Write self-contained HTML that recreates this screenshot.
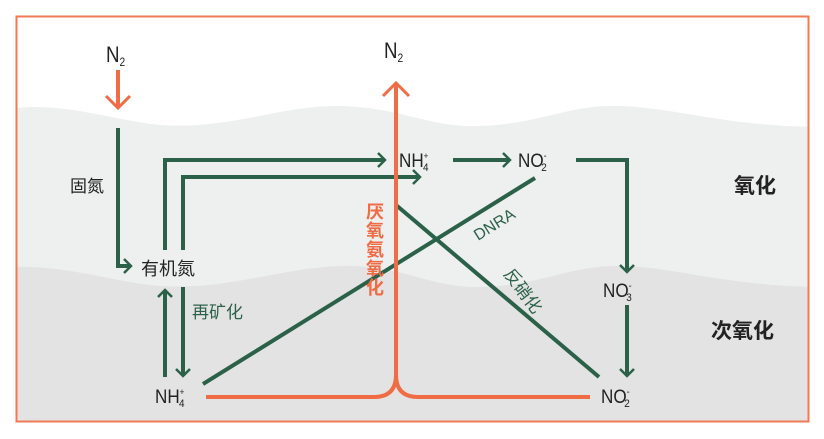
<!DOCTYPE html>
<html><head><meta charset="utf-8"><style>
body{margin:0;background:#fff}
svg{display:block}
text{font-family:"Liberation Sans","Noto Sans CJK SC",sans-serif}
</style></head><body>
<svg width="824" height="439" viewBox="0 0 824 439" xmlns="http://www.w3.org/2000/svg">
<defs><clipPath id="c"><rect x="17" y="17" width="791" height="404"/></clipPath></defs>
<g clip-path="url(#c)">
<rect x="0" y="0" width="824" height="439" fill="#ffffff"/>
<path d="M0,110 C60,100 100,118 160,125 C230,130 280,105 340,106 C400,107 430,128 480,126 C540,124 570,104 620,106 C680,108 720,126 824,127 L824,439 L0,439Z" fill="#eeefef"/>
<path d="M0,268 C60,262 110,282 160,286 C230,290 280,268 340,266 C400,264 430,288 480,287 C540,286 570,265 620,266 C680,267 720,286 824,287 L824,439 L0,439Z" fill="#e3e3e3"/>
</g>
<rect x="16.5" y="16.5" width="792" height="405" fill="none" stroke="#f07a55" stroke-width="2"/>
<g fill="none" stroke="#2b6149" stroke-width="4" stroke-linejoin="miter">
<path d="M118,128 V266 H130"/><path d="M124,259 L131,266 L124,273" stroke-width="2.5"/>
<path d="M165,250 V160 H385"/><path d="M378,153 L385,160 L378,167" stroke-width="2.5"/>
<path d="M183,250 V177 H420"/><path d="M413,170 L420,177 L413,184" stroke-width="2.5"/>
<path d="M453,160 H510"/><path d="M503,153 L510,160 L503,167" stroke-width="2.5"/>
<path d="M576,160 H627 V272"/><path d="M620,265 L627,272 L634,265" stroke-width="2.5"/>
<path d="M627,305 V376"/><path d="M620,369 L627,376 L634,369" stroke-width="2.5"/>
<path d="M165,377 V290"/><path d="M158,297 L165,290 L172,297" stroke-width="2.5"/>
<path d="M183,287 V376"/><path d="M176,369 L183,376 L190,369" stroke-width="2.5"/>
<path d="M203,384 L535,178"/>
<path d="M396,205 L599,377"/>
</g>
<g fill="none" stroke="#f06c45" stroke-width="4">
<path d="M118,70 V108"/><path d="M106,96 L118,108 L130,96" stroke-width="3"/>
<path d="M396,84 V375 Q396,397 418,397 H590"/>
<path d="M396,375 Q396,397 374,397 H206"/>
<path d="M383,96 L396,83 L409,96" stroke-width="3"/>
</g>
<g fill="#222" font-size="22">
<text x="106" y="62" transform="translate(106,0) scale(0.85,1) translate(-106,0)">N<tspan font-size="12" dy="4">2</tspan></text>
<text x="384" y="58" transform="translate(384,0) scale(0.85,1) translate(-384,0)">N<tspan font-size="12" dy="4">2</tspan></text>
<text x="399" y="167" font-size="19" transform="translate(399,0) scale(0.9,1) translate(-399,0)">NH<tspan font-size="9" dy="-8">+</tspan><tspan font-size="11" dx="-6" dy="12">4</tspan></text>
<text x="518" y="167" font-size="19" transform="translate(518,0) scale(0.9,1) translate(-518,0)">NO<tspan font-size="10" dy="-8">-</tspan><tspan font-size="11" dx="-6" dy="12">2</tspan></text>
<text x="603" y="297" font-size="19" transform="translate(603,0) scale(0.9,1) translate(-603,0)">NO<tspan font-size="10" dy="-8">-</tspan><tspan font-size="11" dx="-6" dy="12">3</tspan></text>
<text x="601" y="403" font-size="19" transform="translate(601,0) scale(0.9,1) translate(-601,0)">NO<tspan font-size="10" dy="-8">-</tspan><tspan font-size="11" dx="-6" dy="12">2</tspan></text>
<text x="155" y="403" font-size="19" transform="translate(155,0) scale(0.9,1) translate(-155,0)">NH<tspan font-size="9" dy="-8">+</tspan><tspan font-size="11" dx="-6" dy="12">4</tspan></text>
<text x="141" y="275" font-size="18">有机氮</text>
<text x="70" y="192" font-size="17">固氮</text>
<text x="734" y="193" font-size="21" font-weight="bold">氧化</text>
<text x="711" y="338" font-size="21" font-weight="bold">次氧化</text>
</g>
<g fill="#2b6149" font-size="17">
<text x="192" y="318">再矿化</text>
<text transform="translate(478,241) rotate(-32)" font-size="16">DNRA</text>
<text transform="translate(503,274) rotate(53)">反硝化</text>
</g>
<g fill="#f06c45" font-size="18" font-weight="bold">
<text x="366" y="218">厌</text><text x="366" y="237">氧</text><text x="366" y="256">氨</text><text x="366" y="275">氧</text><text x="366" y="294">化</text>
</g>
</svg>
</body></html>
